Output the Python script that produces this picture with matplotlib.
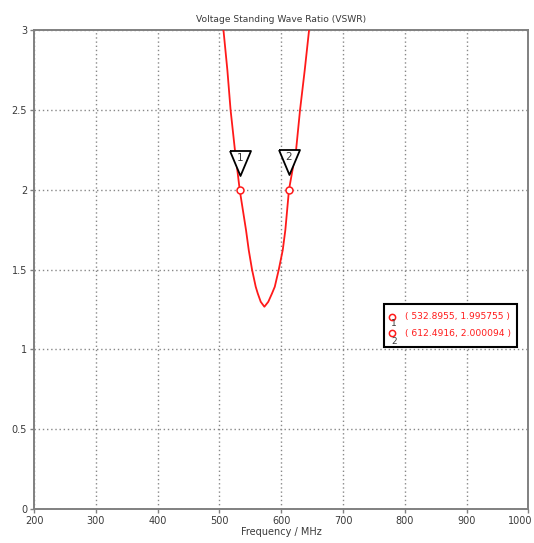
import matplotlib
matplotlib.use("Agg")
import matplotlib.pyplot as plt
import matplotlib.transforms as mtransforms

# ---- data ----
freq = [506.5, 512.8, 518.0, 525.0, 532.9, 543.0, 547.4, 552.7, 558.7, 562.0,
        566.8, 572.7, 579.0, 585.0, 589.5, 596.0, 602.4, 606.6, 612.5, 624.0,
        630.4, 638.0, 645.0]
vswr = [3.0, 2.75, 2.5, 2.25, 1.9958, 1.747, 1.622, 1.5, 1.392, 1.35,
        1.298, 1.267, 1.298, 1.35, 1.392, 1.5, 1.622, 1.747, 2.0, 2.25,
        2.5, 2.75, 3.0]
marker_freq = [532.8955, 612.4916]
marker_vswr = [1.995755, 2.000094]
marker_names = ["1", "2"]
x_ticks = [200, 300, 400, 500, 600, 700, 800, 900, 1000]
y_ticks = [0, 0.5, 1, 1.5, 2, 2.5, 3]
y_tick_labels = ["0", "0.5", "1", "1.5", "2", "2.5", "3"]
title = "Voltage Standing Wave Ratio (VSWR)"
xlabel = "Frequency / MHz"

fig = plt.figure(figsize=(5.34, 5.43), dpi=100)
ax = fig.add_axes([0.0637, 0.0626, 0.926, 0.882])

txt_col = "#3a3a3a"
frame_col = "#808080"

ax.plot(freq, vswr, color="#ff1a1a", lw=1.3, zorder=3, clip_on=True,
        solid_joinstyle="round")
ax.set_xlim(200, 1000)
ax.set_ylim(0, 3)
ax.set_xticks(x_ticks)
ax.set_yticks(y_ticks)
ax.set_yticklabels(y_tick_labels)
ax.tick_params(labelsize=7, colors=frame_col, labelcolor=txt_col, length=3, width=1, pad=2)
for s in ax.spines.values():
    s.set_color(frame_col)
    s.set_linewidth(1.4)
ax.grid(True, color="#888888", ls=(0, (1, 2)), lw=1.0)
ax.set_axisbelow(True)

# last x tick label kept inside the figure
fig.canvas.draw()
last = ax.get_xticklabels()[-1]
last.set_horizontalalignment("right")
last.set_transform(last.get_transform() +
                   mtransforms.ScaledTranslation(4 / 100, 0, fig.dpi_scale_trans))

ax.set_title(title, fontsize=6.6, color=txt_col, pad=6)
ax.set_xlabel(xlabel, fontsize=7, color=txt_col, labelpad=1)

# marker points
ax.plot(marker_freq, marker_vswr, ls="none", marker="o", ms=5, mfc="white",
        mec="#ff1a1a", mew=1.1, zorder=5)

# marker triangles
tri_tr = mtransforms.offset_copy(ax.transData, fig=fig, x=0, y=19.8, units="points")
num_tr = mtransforms.offset_copy(ax.transData, fig=fig, x=0, y=23.5, units="points")
tri_verts = [(-0.84, 1.0), (0.84, 1.0), (0.0, -1.0), (-0.84, 1.0)]
for fx, vy, name in zip(marker_freq, marker_vswr, marker_names):
    ax.plot([fx], [vy], transform=tri_tr, marker=tri_verts, ms=18, mfc="white",
            mec="black", mew=1.3, ls="none", zorder=6)
    ax.text(fx, vy, name, transform=num_tr, ha="center", va="center",
            fontsize=7.5, color=txt_col, zorder=7)

# legend box with marker readouts
box = plt.Rectangle((0.708, 0.3376), 0.268, 0.0904, transform=ax.transAxes,
                    facecolor="white", edgecolor="black", lw=1.5, zorder=8)
ax.add_patch(box)
row_y = [0.401, 0.367]
sub_y = [0.388, 0.350]
for fx, vy, name, ry, sy in zip(marker_freq, marker_vswr, marker_names, row_y, sub_y):
    ax.plot([0.723], [ry], transform=ax.transAxes, marker="o", ms=4.5, mfc="white",
            mec="#ff1a1a", mew=1.1, zorder=9, clip_on=False)
    ax.text(0.7285, sy, name, transform=ax.transAxes, fontsize=6.5, color=txt_col,
            ha="center", va="center", zorder=9)
    ax.text(0.750, ry, "( %.4f, %.6f )" % (fx, vy), transform=ax.transAxes,
            fontsize=6.6, color="#ff1a1a", ha="left", va="center", zorder=9)

fig.savefig("out.png", dpi=100)
